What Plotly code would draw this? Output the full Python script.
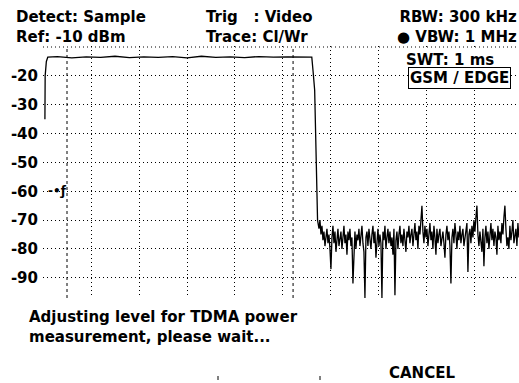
import numpy as np
import plotly.graph_objects as go

# Sweep: 1 ms over 10 divisions (time in microseconds), level in dBm
ref_level = -10
y_ticks = [-20, -30, -40, -50, -60, -70, -80, -90]
x_grid = [0, 100, 200, 300, 400, 500, 600, 700, 800, 900]
gate_lines = [50, 521]
trigger_level = -60

# TDMA burst: rising edge, flat top, falling edge
burst_t = [4, 4.5, 7, 10, 30, 60, 90, 120, 150, 180, 210, 240, 270, 300, 330,
           360, 390, 420, 450, 480, 510, 540, 560, 563, 566, 568, 570, 572, 575]
burst_db = [-35, -20, -15, -13.5, -13.3, -13.8, -13.4, -13.6, -13.2, -13.7, -13.4,
            -13.6, -13.3, -13.8, -13.2, -13.6, -13.4, -13.7, -13.3, -13.5, -13.4,
            -13.6, -13.5, -19, -25, -40, -64, -70, -73]

# Noise floor after the burst, one value per trace point
noise_t0 = 577
noise_dt = 2.083
noise_db = [
    -70, -75, -72, -77, -74, -79, -76, -73, -78, -75,
    -80, -87, -76, -72, -78, -74, -81, -75, -73, -79,
    -76, -74, -80, -77, -72, -78, -75, -82, -74, -77,
    -73, -79, -76, -92, -78, -74, -80, -75, -77, -73,
    -79, -75, -72, -78, -81, -97, -76, -74, -79, -73,
    -77, -80, -75, -72, -78, -74, -83, -76, -73, -79,
    -75, -78, -97, -74, -77, -72, -80, -76, -73, -78,
    -74, -79, -76, -82, -73, -96, -77, -74, -80, -75,
    -72, -78, -75, -79, -73, -77, -81, -74, -76, -72,
    -78, -75, -73, -79, -76, -71, -77, -74, -80, -72,
    -75, -70, -65, -74, -78, -72, -76, -73, -79, -75,
    -71, -77, -74, -80, -72, -76, -82, -73, -78, -75,
    -73, -79, -76, -74, -78, -83, -75, -72, -77, -74,
    -79, -92, -76, -73, -78, -71, -75, -80, -74, -77,
    -72, -78, -75, -73, -79, -76, -74, -71, -88, -75,
    -73, -78, -72, -76, -70, -74, -69, -65, -75, -79,
    -74, -77, -81, -73, -86, -76, -72, -78, -74, -80,
    -75, -71, -77, -73, -79, -74, -76, -82, -72, -77,
    -74, -78, -71, -75, -69, -65, -73, -79, -76, -80,
    -72, -77, -74, -70, -78, -75, -73, -79, -71, -76,
]

noise_t = noise_t0 + noise_dt * np.arange(len(noise_db))
trace_t = list(burst_t) + list(noise_t)
trace_db = list(burst_db) + list(noise_db)

W, H = 519, 383
L, R, T, B = 43, 0, 46, 85
X_MAX = 991.7
Y_MIN = -97
Y_MAX = -9.65   # a little headroom so the reference line is not clipped

FONT = "DejaVu Sans"


def px(x):
    return (x - L) / (W - L - R)


def py(y):
    return (H - B - y) / (H - B - T)


fig = go.Figure()
fig.add_trace(go.Scatter(
    x=trace_t, y=trace_db, mode="lines",
    line=dict(color="black", width=1.3),
    hoverinfo="skip", showlegend=False,
))

shapes = []
for g in gate_lines:
    shapes.append(dict(type="line", xref="x", yref="y", x0=g, x1=g,
                       y0=Y_MIN, y1=ref_level,
                       line=dict(color="black", width=1, dash="3px,3px")))
# top reference line
shapes.append(dict(type="line", xref="x", yref="y", x0=0, x1=X_MAX,
                   y0=ref_level, y1=ref_level,
                   line=dict(color="black", width=1, dash="1px,3px")))

annotations = []


def label(text, x, y, size=15, anchor="left", align="left", **kw):
    annotations.append(dict(
        text=text, xref="paper", yref="paper", x=px(x), y=py(y),
        xanchor=anchor, yanchor="middle", showarrow=False, align=align,
        font=dict(family=FONT, size=size, color="black", weight="bold"), **kw))


# instrument settings header
label("Detect: Sample<br>Ref: -10 dBm", 14, 26.5)
label("Trig   : Video<br>Trace: Cl/Wr", 204, 26.5)
label("RBW: 300 kHz<br>● VBW: 1 MHz", 519, 26.5, anchor="right", align="right")
label("SWT: 1 ms", 404, 59.5, bgcolor="white")
label("GSM / EDGE", 408, 77.5, bgcolor="white",
      bordercolor="black", borderwidth=1, borderpad=1)

# status message and soft key
label("Adjusting level for TDMA power<br>measurement, please wait...", 27, 327)
label("CANCEL", 387, 373)

# trigger level marker
annotations.append(dict(
    text="-•ƒ", xref="x", yref="y", x=7, y=trigger_level,
    xanchor="left", yanchor="middle", showarrow=False,
    font=dict(family=FONT, size=12, color="black", weight="bold")))

# soft-key separators
for sx in (218, 320):
    shapes.append(dict(type="line", xref="paper", yref="paper",
                       x0=px(sx), x1=px(sx), y0=py(376), y1=py(380),
                       line=dict(color="black", width=1)))

fig.update_layout(
    width=W, height=H,
    margin=dict(l=L, r=R, t=T, b=B, pad=0),
    paper_bgcolor="white", plot_bgcolor="white",
    shapes=shapes, annotations=annotations,
    xaxis=dict(range=[0, X_MAX], tickvals=x_grid, showticklabels=False,
               showgrid=True, gridcolor="black", gridwidth=1, griddash="1px,3px",
               zeroline=False, showline=False, ticks=""),
    yaxis=dict(range=[Y_MIN, Y_MAX], tickvals=y_ticks,
               ticktext=[str(v) for v in y_ticks],
               showgrid=True, gridcolor="black", gridwidth=1, griddash="1px,3px",
               zeroline=False, showline=False, ticks="", ticklabelstandoff=4,
               tickfont=dict(family=FONT, size=15, color="black", weight="bold")),
)

fig.write_html("out.html")
